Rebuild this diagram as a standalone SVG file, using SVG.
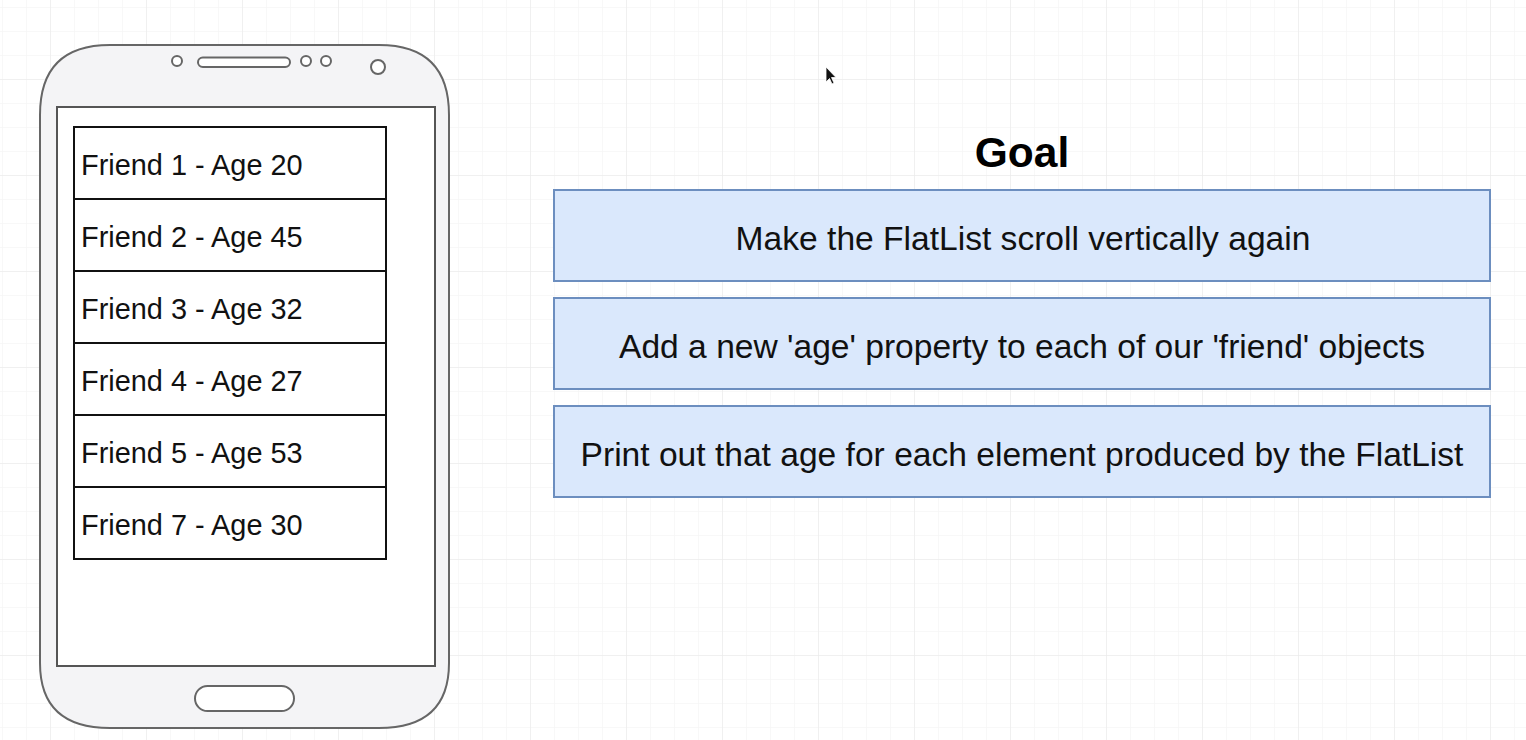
<svg xmlns="http://www.w3.org/2000/svg" width="1526" height="740" viewBox="0 0 1526 740">
  <defs>
    <pattern id="gridMinor" x="2" y="7" width="24" height="24" patternUnits="userSpaceOnUse">
      <path d="M0 0 H24 M0 0 V24" fill="none" stroke="#f2f2f2" stroke-width="1"/>
    </pattern>
    <pattern id="gridMajor" x="50" y="79" width="96" height="96" patternUnits="userSpaceOnUse">
      <path d="M0 0 H96 M0 0 V96" fill="none" stroke="#e8e8e8" stroke-width="1"/>
    </pattern>
  </defs>
  <style>
    .body { fill: #f4f4f6; stroke: #666; stroke-width: 2; }
    .screen { fill: #fff; stroke: #555; stroke-width: 2; }
    .detail { fill: #fff; stroke: #666; stroke-width: 2; }
    .row { fill: #fff; stroke: #111; stroke-width: 2; }
    .rowText { font-family: "Liberation Sans", Arial, sans-serif; font-size: 28.9px; fill: #111; }
    .goal { fill: #dae8fc; stroke: #6c8ebf; stroke-width: 2; }
    .goalText { font-family: "Liberation Sans", Arial, sans-serif; font-size: 33.6px; fill: #111; text-anchor: middle; }
    .title { font-family: "Liberation Sans", Arial, sans-serif; font-size: 42.5px; font-weight: bold; fill: #000; text-anchor: middle; }
  </style>

  <!-- background grid -->
  <rect width="1526" height="740" fill="#fff"/>
  <rect width="1526" height="740" fill="url(#gridMinor)"/>
  <rect width="1526" height="740" fill="url(#gridMajor)"/>

  <!-- phone -->
  <g id="phone">
    <path class="body" d="M110 45 H379 Q449 45 449 115 V663 Q449 728 379 728 H110 Q40 728 40 663 V115 Q40 45 110 45 Z"/>
    <rect class="screen" x="57" y="107" width="378" height="559"/>
    <circle class="detail" cx="177" cy="61" r="5"/>
    <rect class="detail" x="198" y="57.5" width="92" height="9.5" rx="4.75"/>
    <circle class="detail" cx="306" cy="61" r="5"/>
    <circle class="detail" cx="326" cy="61" r="5"/>
    <circle class="detail" cx="378" cy="67" r="7"/>
    <rect class="detail" x="195" y="686" width="99" height="25" rx="12.5"/>
  </g>

  <!-- friend list -->
  <g id="row1"><rect class="row" x="74" y="127" width="312" height="72"/><text class="rowText" x="81" y="175">Friend 1 - Age 20</text></g>
  <g id="row2"><rect class="row" x="74" y="199" width="312" height="72"/><text class="rowText" x="81" y="247">Friend 2 - Age 45</text></g>
  <g id="row3"><rect class="row" x="74" y="271" width="312" height="72"/><text class="rowText" x="81" y="319">Friend 3 - Age 32</text></g>
  <g id="row4"><rect class="row" x="74" y="343" width="312" height="72"/><text class="rowText" x="81" y="391">Friend 4 - Age 27</text></g>
  <g id="row5"><rect class="row" x="74" y="415" width="312" height="72"/><text class="rowText" x="81" y="463">Friend 5 - Age 53</text></g>
  <g id="row6"><rect class="row" x="74" y="487" width="312" height="72"/><text class="rowText" x="81" y="535">Friend 7 - Age 30</text></g>

  <!-- goals -->
  <g id="goalTitle"><text class="title" x="1022" y="167">Goal</text></g>
  <g id="goal1"><rect class="goal" x="554" y="190" width="936" height="91"/><text class="goalText" x="1023" y="250">Make the FlatList scroll vertically again</text></g>
  <g id="goal2"><rect class="goal" x="554" y="298" width="936" height="91"/><text class="goalText" x="1022" y="358">Add a new 'age' property to each of our 'friend' objects</text></g>
  <g id="goal3"><rect class="goal" x="554" y="406" width="936" height="91"/><text class="goalText" x="1022" y="466">Print out that age for each element produced by the FlatList</text></g>

  <!-- no connectors in this drawing -->
  <g id="connectors"/>

  <!-- mouse pointer -->
  <path d="M826 67 V82 L829.5 78.5 L832 84 L834 83 L831.5 77.5 L836 77.5 Z" fill="#111" stroke="#fff" stroke-width="0.8"/>
</svg>
